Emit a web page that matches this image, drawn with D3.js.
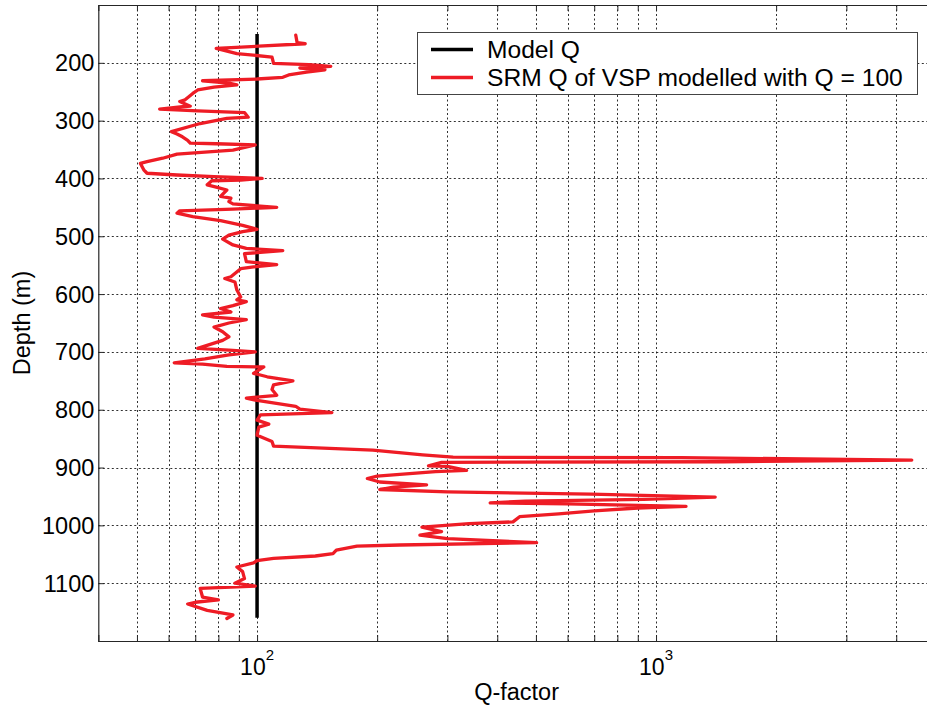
<!DOCTYPE html>
<html>
<head>
<meta charset="utf-8">
<script src="https://cdn.jsdelivr.net/npm/d3@7"></script>
<style>
  html, body { margin: 0; padding: 0; background: #fff; }
  svg { display: block; }
  text { font-family: "Liberation Sans", Arial, Helvetica, sans-serif; fill: #000; }
</style>
</head>
<body>
<svg id="chart" width="927" height="708"></svg>
<script>
// ---- data ----
const modelDepth = [150, 1160];
const modelQ = [100, 100];

const srmDepth = [152,165,167,175,184,190,201,203,206,209,212,216,221,225,228,231,235,238,242,247,253,264,267,275,276,280,283,286,294,296,305,319,323,328,334,339,340,342,351,358,365,371,374,385,391,394,397,400,403,404,411,415,420,431,434,440,444,450,453,456,460,466,473,481,488,492,498,505,515,521,525,530,544,549,553,556,570,573,579,593,605,610,613,620,625,631,636,640,644,650,657,665,674,680,694,697,700,705,712,719,721,725,726,737,743,750,757,765,775,780,784,794,799,805,809,818,825,830,844,855,863,870,878,882,883,887,890,891,897,898,905,907,915,919,925,930,934,938,942,946,951,955,958,961,963,967,970,975,980,985,994,997,1003,1011,1017,1023,1030,1034,1036,1043,1049,1053,1057,1061,1065,1072,1080,1092,1100,1105,1109,1124,1129,1133,1136,1147,1155,1161];
const srmQ = [125,126,132,79,89,109,110,135,153,128,148,133,120,116,100,73,85,89,78,71,69,66,64,68,65,57,71,93,95,84,72,61,63,65,67,68,79,99,87,63,58,53,51,52,53,63,78,103,91,77,75,79,84,81,86,85,87,112,87,64,63,69,81,92,100,92,85,82,87,94,116,93,94,112,98,91,86,83,88,89,91,89,94,87,81,86,73,78,94,85,78,82,85,82,71,85,99,85,74,62,73,84,104,98,106,123,110,109,112,94,100,125,128,154,102,100,107,101,100,109,110,195,260,310,1160,4375,1470,290,269,300,335,280,200,189,203,266,220,203,300,687,1407,930,470,384,600,1189,900,700,570,455,438,340,259,290,256,300,502,228,178,158,155,140,110,100,98,89,92,93,88,99,72,73,80,70,67,75,87,84];

const yTicks = [200,300,400,500,600,700,800,900,1000,1100];
const xLabelTicks = [100, 1000];
const xDomain = [40, 5000];
const yDomain = [100, 1200];

const legendLabels = ["Model Q", "SRM Q of VSP modelled with Q = 100"];
const colors = { model: "#000000", srm: "#ee1c25" };

// ---- layout ----
const svg = d3.select("#chart");
const L = 98.3, R = 934.9, T = 5, B = 641;

const x = d3.scaleLog().domain(xDomain).range([L, R]);
const y = d3.scaleLinear().domain(yDomain).range([T, B]);

const xGridTicks = x.ticks().filter(v => v > xDomain[0] && v < xDomain[1]);

// grid
const grid = svg.append("g").attr("stroke", "#1a1a1a").attr("stroke-width", 0.9)
  .attr("stroke-dasharray", "2,2.5").attr("fill", "none");
grid.selectAll("line.vx").data(xGridTicks).join("line")
  .attr("x1", d => Math.round(x(d)) + 0.5).attr("x2", d => Math.round(x(d)) + 0.5)
  .attr("y1", T).attr("y2", B);
grid.selectAll("line.hy").data(yTicks).join("line")
  .attr("y1", d => Math.round(y(d)) + 0.5).attr("y2", d => Math.round(y(d)) + 0.5)
  .attr("x1", L).attr("x2", R);

// axes using d3 axis generators (inward ticks)
const xAxisB = d3.axisBottom(x).tickValues(xGridTicks).tickSize(-6).tickFormat("");
const xAxisT = d3.axisTop(x).tickValues(xGridTicks).tickSize(-6).tickFormat("");
const yAxisL = d3.axisLeft(y).tickValues(yTicks).tickSize(-6).tickFormat("");
const yAxisR = d3.axisRight(y).tickValues(yTicks).tickSize(-6).tickFormat("");

function styleAxis(g) {
  g.select(".domain").attr("stroke", "#262626").attr("stroke-width", 1.2);
  g.selectAll(".tick line").attr("stroke", "#262626");
}
svg.append("g").attr("transform", `translate(0,${B})`).call(xAxisB).call(styleAxis);
svg.append("g").attr("transform", `translate(0,${T})`).call(xAxisT).call(styleAxis);
svg.append("g").attr("transform", `translate(${L},0)`).call(yAxisL).call(styleAxis);
svg.append("g").attr("transform", `translate(${R},0)`).call(yAxisR).call(styleAxis);

// y tick labels
svg.append("g").selectAll("text").data(yTicks).join("text")
  .attr("x", L - 4).attr("y", d => y(d)).attr("dy", "0.36em")
  .attr("text-anchor", "end").attr("font-size", 23.5)
  .text(d => d);

// x tick labels: 10^n
const xl = svg.append("g").selectAll("text").data(xLabelTicks).join("text")
  .attr("x", d => x(d)).attr("y", 675)
  .attr("text-anchor", "middle").attr("font-size", 23);
xl.append("tspan").text("10");
xl.append("tspan").attr("dy", -15).attr("font-size", 15).text(d => Math.round(Math.log10(d)));

// axis titles
svg.append("text").attr("x", (L + R) / 2).attr("y", 700)
  .attr("text-anchor", "middle").attr("font-size", 23.5).text("Q-factor");
svg.append("text").attr("transform", `translate(30,${(T + B) / 2}) rotate(-90)`)
  .attr("text-anchor", "middle").attr("font-size", 23.5).text("Depth (m)");

// lines
const clipId = "plotclip";
svg.append("clipPath").attr("id", clipId).append("rect")
  .attr("x", L).attr("y", T).attr("width", R - L).attr("height", B - T);

const line = d3.line().x(d => x(d[1])).y(d => y(d[0]));
const modelData = modelDepth.map((d, i) => [d, modelQ[i]]);
const srmData = srmDepth.map((d, i) => [d, srmQ[i]]);

svg.append("path").datum(modelData).attr("d", line)
  .attr("fill", "none").attr("stroke", colors.model).attr("stroke-width", 3.5)
  .attr("clip-path", `url(#${clipId})`);
svg.append("path").datum(srmData).attr("d", line)
  .attr("fill", "none").attr("stroke", colors.srm).attr("stroke-width", 3.3)
  .attr("stroke-linejoin", "round").attr("stroke-linecap", "round")
  .attr("clip-path", `url(#${clipId})`);

// legend
const lg = svg.append("g");
lg.append("rect").attr("x", 417.5).attr("y", 32.5).attr("width", 500).attr("height", 62)
  .attr("fill", "#fff").attr("stroke", "#444").attr("stroke-width", 1);
const legendColors = [colors.model, colors.srm];
const rows = [49.5, 77.5];
legendLabels.forEach((lab, i) => {
  lg.append("line").attr("x1", 431).attr("x2", 473).attr("y1", rows[i]).attr("y2", rows[i])
    .attr("stroke", legendColors[i]).attr("stroke-width", 3.5);
  lg.append("text").attr("x", 487).attr("y", rows[i]).attr("dy", "0.35em")
    .attr("font-size", 24.6).text(lab);
});
</script>
</body>
</html>
